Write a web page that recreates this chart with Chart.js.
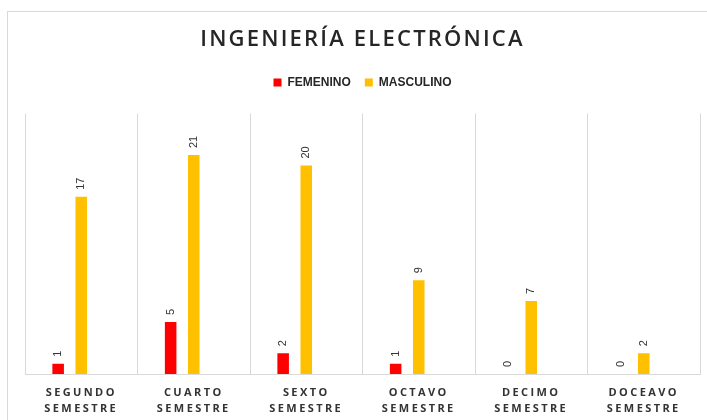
<!DOCTYPE html>
<html>
<head>
<meta charset="utf-8">
<script src="https://cdn.jsdelivr.net/npm/chart.js@4/dist/chart.umd.min.js"></script>
<style>
  html, body { margin: 0; padding: 0; background: #fff; overflow: hidden; }
  #frame {
    position: absolute; left: 7px; top: 11px;
    width: 713px; height: 420px;
    border-left: 1px solid #d9d9d9; border-top: 1px solid #d9d9d9;
  }
</style>
</head>
<body>
<div id="frame"><canvas id="chart" width="713" height="420"></canvas></div>
<script>
// chart values
const categories = [
    ['SEGUNDO', 'SEMESTRE'],
    ['CUARTO', 'SEMESTRE'],
    ['SEXTO', 'SEMESTRE'],
    ['OCTAVO', 'SEMESTRE'],
    ['DECIMO', 'SEMESTRE'],
    ['DOCEAVO', 'SEMESTRE']
];
const femenino = [1, 5, 2, 1, 0, 0];
const masculino = [17, 21, 20, 9, 7, 2];
const emptySeries = [null, null, null, null, null, null]; // empty third slot, as in the original

// letter spacing for title and axis labels (Chart.js has no option for it)
function withSpacing(obj, fn, sp) {
    if (!obj || obj['_sp_' + fn]) return;
    const orig = obj[fn];
    obj['_sp_' + fn] = true;
    obj[fn] = function (...args) {
        const c = this.ctx;
        c.save();
        c.letterSpacing = sp;
        orig.apply(this, args);
        c.restore();
    };
}

const spacingPlugin = {
    id: 'spacing',
    beforeInit(chart) {
        // leave some room between legend and plot
        const fit = chart.legend.fit;
        chart.legend.fit = function () {
            fit.call(this);
            this.height += 15;
        };
    },
    afterLayout(chart) {
        withSpacing(chart.scales.x, 'drawLabels', '2.4px');
        withSpacing(chart.titleBlock, 'draw', '2.2px');
    }
};

// rotated value labels above each bar
const valueLabels = {
    id: 'valueLabels',
    afterDatasetsDraw(chart) {
        const ctx = chart.ctx;
        chart.data.datasets.forEach((ds, di) => {
            if (ds.noLabels) return;
            const meta = chart.getDatasetMeta(di);
            meta.data.forEach((bar, i) => {
                const v = ds.data[i];
                if (v === null || v === undefined) return;
                ctx.save();
                ctx.translate(bar.x, bar.y - 7);
                ctx.rotate(-Math.PI / 2);
                ctx.font = '11px "Liberation Sans", Arial, sans-serif';
                ctx.fillStyle = '#333333';
                ctx.textAlign = 'left';
                ctx.textBaseline = 'middle';
                ctx.fillText(String(v), 0, 0);
                ctx.restore();
            });
        });
    }
};

const ctx = document.getElementById('chart').getContext('2d');
new Chart(ctx, {
    type: 'bar',
    data: {
        labels: categories,
        datasets: [
            { label: 'FEMENINO', data: femenino, backgroundColor: '#ff0000' },
            { label: 'MASCULINO', data: masculino, backgroundColor: '#ffc000' },
            { label: '', data: emptySeries, backgroundColor: '#a5a5a5', noLabels: true }
        ]
    },
    options: {
        responsive: false,
        animation: false,
        categoryPercentage: 0.616,
        barPercentage: 0.5,
        layout: {
            padding: { top: 0, right: 21, bottom: 4, left: 17 }
        },
        plugins: {
            title: {
                display: true,
                text: 'INGENIERÍA ELECTRÓNICA',
                color: '#262626',
                font: { family: '"Open Sans", sans-serif', size: 22, weight: '600' },
                padding: { top: 15, bottom: 9 }
            },
            legend: {
                display: true,
                labels: {
                    color: '#262626',
                    font: { family: '"Liberation Sans", Arial, sans-serif', size: 12, weight: 'bold' },
                    boxWidth: 8,
                    boxHeight: 8,
                    padding: 14,
                    filter: item => item.text !== ''
                }
            },
            tooltip: { enabled: false }
        },
        scales: {
            x: {
                offset: true,
                grid: {
                    display: true,
                    offset: true,
                    color: '#d9d9d9',
                    drawTicks: false
                },
                border: { display: true, color: '#d9d9d9' },
                ticks: {
                    color: '#333333',
                    padding: 11,
                    maxRotation: 0,
                    autoSkip: false,
                    font: { family: '"Open Sans", sans-serif', size: 11, weight: 'bold', lineHeight: 1.45 }
                }
            },
            y: {
                display: false,
                min: 0,
                max: 25
            }
        }
    },
    plugins: [spacingPlugin, valueLabels]
});
</script>
</body>
</html>
